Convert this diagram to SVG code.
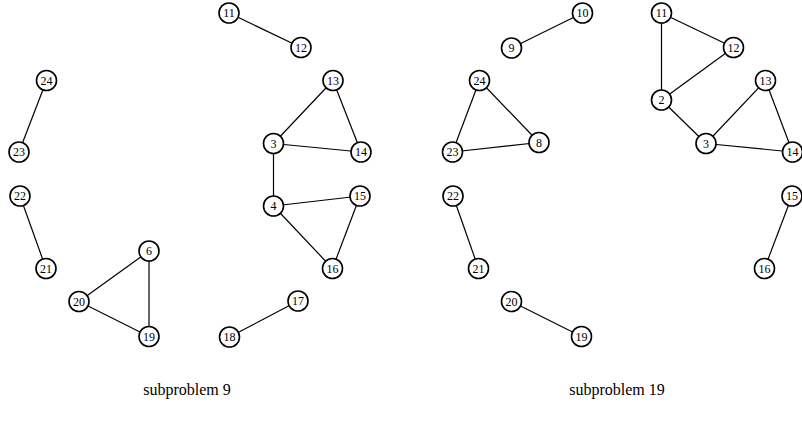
<svg xmlns="http://www.w3.org/2000/svg" width="802" height="432" viewBox="0 0 802 432">
<style>
.e line{stroke:#000;stroke-width:1.2}
.n circle{fill:#fff;stroke:#000;stroke-width:1.6}
.n text{font-family:"Liberation Serif",serif;font-size:12px;text-anchor:middle;fill:#000}
.cap{font-family:"Liberation Serif",serif;font-size:16px;text-anchor:middle;fill:#000}
</style>
<rect width="802" height="432" fill="#fff"/>
<g id="connectors" class="e">
<line x1="229" y1="13" x2="301" y2="47.5"/>
<line x1="46.5" y1="80.5" x2="19" y2="152"/>
<line x1="333" y1="80.5" x2="273.5" y2="143.5"/>
<line x1="333" y1="80.5" x2="361" y2="152"/>
<line x1="273.5" y1="143.5" x2="361" y2="152"/>
<line x1="273.5" y1="143.5" x2="273.5" y2="206"/>
<line x1="273.5" y1="206" x2="360" y2="196"/>
<line x1="273.5" y1="206" x2="332.5" y2="268.5"/>
<line x1="360" y1="196" x2="332.5" y2="268.5"/>
<line x1="20" y1="196" x2="46" y2="268.5"/>
<line x1="149" y1="251" x2="79" y2="301.5"/>
<line x1="149" y1="251" x2="149" y2="336.5"/>
<line x1="79" y1="301.5" x2="149" y2="336.5"/>
<line x1="298" y1="301" x2="229.5" y2="337"/>
<line x1="582.5" y1="13" x2="511.5" y2="48"/>
<line x1="661.5" y1="13" x2="733.5" y2="47.5"/>
<line x1="661.5" y1="13" x2="661.5" y2="100"/>
<line x1="733.5" y1="47.5" x2="661.5" y2="100"/>
<line x1="661.5" y1="100" x2="706" y2="143.5"/>
<line x1="765.5" y1="80.5" x2="706" y2="143.5"/>
<line x1="765.5" y1="80.5" x2="792.5" y2="152"/>
<line x1="706" y1="143.5" x2="792.5" y2="152"/>
<line x1="479.5" y1="80.5" x2="452.5" y2="152"/>
<line x1="479.5" y1="80.5" x2="539" y2="142.5"/>
<line x1="452.5" y1="152" x2="539" y2="142.5"/>
<line x1="453" y1="196" x2="478.5" y2="268.5"/>
<line x1="792" y1="196" x2="764.5" y2="268.5"/>
<line x1="511.5" y1="301.5" x2="581.5" y2="336.5"/>
</g>
<g id="L11" class="n"><circle cx="229" cy="13" r="10"/><text x="229" y="17">11</text></g>
<g id="L12" class="n"><circle cx="301" cy="47.5" r="10"/><text x="301" y="51.5">12</text></g>
<g id="L24" class="n"><circle cx="46.5" cy="80.5" r="10"/><text x="46.5" y="84.5">24</text></g>
<g id="L23" class="n"><circle cx="19" cy="152" r="10"/><text x="19" y="156">23</text></g>
<g id="L13" class="n"><circle cx="333" cy="80.5" r="10"/><text x="333" y="84.5">13</text></g>
<g id="L3" class="n"><circle cx="273.5" cy="143.5" r="10"/><text x="273.5" y="147.5">3</text></g>
<g id="L14" class="n"><circle cx="361" cy="152" r="10"/><text x="361" y="156">14</text></g>
<g id="L22" class="n"><circle cx="20" cy="196" r="10"/><text x="20" y="200">22</text></g>
<g id="L15" class="n"><circle cx="360" cy="196" r="10"/><text x="360" y="200">15</text></g>
<g id="L4" class="n"><circle cx="273.5" cy="206" r="10"/><text x="273.5" y="210">4</text></g>
<g id="L6" class="n"><circle cx="149" cy="251" r="10"/><text x="149" y="255">6</text></g>
<g id="L21" class="n"><circle cx="46" cy="268.5" r="10"/><text x="46" y="272.5">21</text></g>
<g id="L16" class="n"><circle cx="332.5" cy="268.5" r="10"/><text x="332.5" y="272.5">16</text></g>
<g id="L20" class="n"><circle cx="79" cy="301.5" r="10"/><text x="79" y="305.5">20</text></g>
<g id="L17" class="n"><circle cx="298" cy="301" r="10"/><text x="298" y="305">17</text></g>
<g id="L19" class="n"><circle cx="149" cy="336.5" r="10"/><text x="149" y="340.5">19</text></g>
<g id="L18" class="n"><circle cx="229.5" cy="337" r="10"/><text x="229.5" y="341">18</text></g>
<g id="R10" class="n"><circle cx="582.5" cy="13" r="10"/><text x="582.5" y="17">10</text></g>
<g id="R9" class="n"><circle cx="511.5" cy="48" r="10"/><text x="511.5" y="52">9</text></g>
<g id="R11" class="n"><circle cx="661.5" cy="13" r="10"/><text x="661.5" y="17">11</text></g>
<g id="R12" class="n"><circle cx="733.5" cy="47.5" r="10"/><text x="733.5" y="51.5">12</text></g>
<g id="R24" class="n"><circle cx="479.5" cy="80.5" r="10"/><text x="479.5" y="84.5">24</text></g>
<g id="R13" class="n"><circle cx="765.5" cy="80.5" r="10"/><text x="765.5" y="84.5">13</text></g>
<g id="R2" class="n"><circle cx="661.5" cy="100" r="10"/><text x="661.5" y="104">2</text></g>
<g id="R8" class="n"><circle cx="539" cy="142.5" r="10"/><text x="539" y="146.5">8</text></g>
<g id="R23" class="n"><circle cx="452.5" cy="152" r="10"/><text x="452.5" y="156">23</text></g>
<g id="R3" class="n"><circle cx="706" cy="143.5" r="10"/><text x="706" y="147.5">3</text></g>
<g id="R14" class="n"><circle cx="792.5" cy="152" r="10"/><text x="792.5" y="156">14</text></g>
<g id="R22" class="n"><circle cx="453" cy="196" r="10"/><text x="453" y="200">22</text></g>
<g id="R15" class="n"><circle cx="792" cy="196" r="10"/><text x="792" y="200">15</text></g>
<g id="R21" class="n"><circle cx="478.5" cy="268.5" r="10"/><text x="478.5" y="272.5">21</text></g>
<g id="R16" class="n"><circle cx="764.5" cy="268.5" r="10"/><text x="764.5" y="272.5">16</text></g>
<g id="R20" class="n"><circle cx="511.5" cy="301.5" r="10"/><text x="511.5" y="305.5">20</text></g>
<g id="R19" class="n"><circle cx="581.5" cy="336.5" r="10"/><text x="581.5" y="340.5">19</text></g>
<text class="cap" x="187" y="395">subproblem 9</text>
<text class="cap" x="617" y="395">subproblem 19</text>
</svg>
